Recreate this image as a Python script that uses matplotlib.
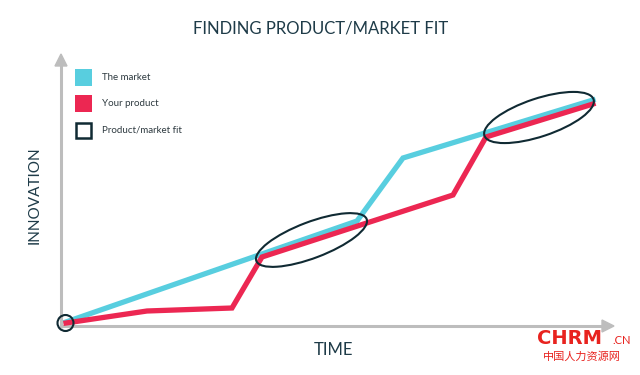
import matplotlib
matplotlib.use("Agg")
import matplotlib.pyplot as plt
from matplotlib.patches import Ellipse, Rectangle

plt.rcParams['font.family'] = ['Lato', 'Noto Sans CJK SC', 'DejaVu Sans']

# Data (time, innovation) in chart units
market_time = [5, 296, 342, 532]
market_innov = [4, 105, 168, 226]
product_time = [5, 86, 171, 201, 392, 425, 532]
product_innov = [3, 15, 18, 69, 131, 189, 222]

# Product/market fit zones: (time, innovation, width, height, angle)
fit_zones = [
    (4.5, 3.0, 16, 16, 0),
    (250.5, 86, 118, 36, 20.8),
    (478, 208.5, 115, 38, 18.4),
]

legend_labels = ["The market", "Your product", "Product/market fit"]

CYAN = "#58CEDF"
RED = "#EC2752"
DARK = "#102A33"
GREY = "#BDBDBD"
TEXT = "#1E3B48"

fig = plt.figure(figsize=(6.4, 3.75), dpi=100)
ax = fig.add_axes([61/640, 49/375, 555/640, 275/375])
ax.set_xlim(0, 555)
ax.set_ylim(0, 275)
ax.axis('off')

# axes arrows
ax.plot([0, 0], [-1.5, 262], color=GREY, lw=2.2, solid_capstyle='butt', clip_on=False)
ax.plot([-1.5, 543], [0, 0], color=GREY, lw=2.2, solid_capstyle='butt', clip_on=False)
ax.add_patch(plt.Polygon([[-6, 260], [6, 260], [0, 272]], closed=True, color=GREY, clip_on=False))
ax.add_patch(plt.Polygon([[541, -6], [541, 6], [553, 0]], closed=True, color=GREY, clip_on=False))

ax.plot(market_time, market_innov, color=CYAN, lw=3.8, solid_joinstyle='miter', zorder=3)
ax.plot(product_time, product_innov, color=RED, lw=3.8, solid_joinstyle='miter', zorder=4)

for (x, y, w, h, a) in fit_zones:
    ax.add_patch(Ellipse((x, y), w, h, angle=a, fill=False, ec=DARK, lw=1.5, zorder=5, clip_on=False))

# legend
for i, (lab, col) in enumerate(zip(legend_labels, [CYAN, RED, None])):
    yc = 249 - i * 26.5
    if col is None:
        ax.add_patch(Rectangle((15, yc - 7.5), 15, 15, fill=False, ec=DARK, lw=1.8, clip_on=False))
    else:
        ax.add_patch(Rectangle((14, yc - 8.5), 17, 17, fc=col, ec='none', clip_on=False))
    ax.text(41, yc, lab, fontsize=7, color="#2E3A40", va='center', ha='left')

fig.text(321/640, 1 - 28/375, "FINDING PRODUCT/MARKET FIT", ha='center', va='center',
         fontsize=12, color=TEXT)
fig.text(35/640, 1 - 195/375, "INNOVATION", rotation=90, ha='center', va='center',
         fontsize=11, color=TEXT)
fig.text(333/640, 1 - 350/375, "TIME", ha='center', va='center', fontsize=12, color=TEXT)

# watermark
fig.text(569/640, 1 - 338/375, "CHRM", ha='center', va='center', fontsize=14,
         fontweight='bold', color="#E8231F", family=['DejaVu Sans'])
fig.text(622/640, 1 - 340/375, ".CN", ha='center', va='center', fontsize=8, color="#E8231F")
fig.text(582/640, 1 - 356/375, "中国人力资源网", ha='center', va='center', fontsize=8,
         color="#E8231F")

fig.savefig("out.png", dpi=100)
